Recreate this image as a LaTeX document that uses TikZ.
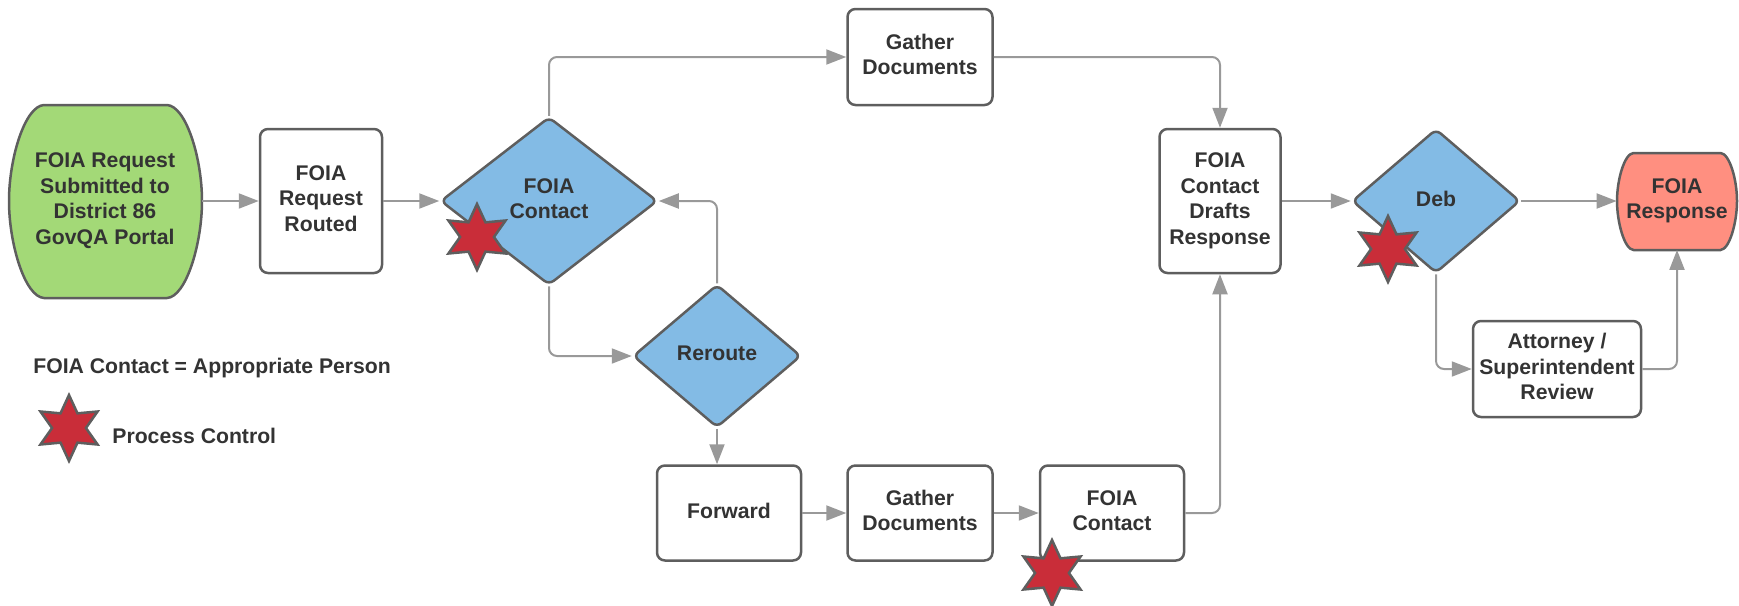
\documentclass[tikz,border=0pt]{standalone}
\usepackage{fontspec}
\setmainfont{Liberation Sans}
\usepackage{tikz}
\usetikzlibrary{positioning, arrows.meta, shapes.geometric}

\definecolor{startgreen}{HTML}{A3D977}
\definecolor{foiablue}{HTML}{83BBE5}
\definecolor{responsered}{HTML}{FF8F80}
\definecolor{controlred}{HTML}{C92D39}
\definecolor{edgegray}{HTML}{5E5E5E}
\definecolor{arrowgray}{HTML}{999999}
\definecolor{textdark}{HTML}{333333}

\tikzset{
  labelfont/.style={font=\bfseries\fontsize{10.6}{12.8}\selectfont, text=textdark},
  box/.style={rectangle, draw=edgegray, line width=1.25pt, rounded corners=4pt,
    fill=white, align=center, labelfont, inner sep=2pt, text depth=0.25em},
  decision/.style={diamond, draw=edgegray, line width=1.25pt, rounded corners=3pt,
    fill=foiablue, align=center, labelfont, inner sep=0pt, text depth=0.25em},
  terminal/.style={rectangle, align=center, labelfont, inner sep=0pt, text depth=0.25em},
  outline/.style={draw=edgegray, line width=1.25pt},
  control/.style={star, star points=6, star point ratio=1.95, minimum size=33pt,
    inner sep=0pt, draw=edgegray, line width=1.25pt, fill=controlred},
  conn/.style={draw=arrowgray, line width=1pt, rounded corners=4pt,
    -{Triangle[length=10pt,width=7.5pt]}},
}

\begin{document}
\begin{tikzpicture}[x=0.5pt,y=-0.5pt]
        \useasboundingbox (0,0) rectangle (1739,605);
        % Terminal outlines
        \path[outline, fill=startgreen] (44,105) -- (167,105)
          .. controls (186,106) and (202,158) .. (202,201)
          .. controls (202,244) and (186,297) .. (167,298) -- (44,298)
          .. controls (25,297) and (9,244) .. (9,201)
          .. controls (9,158) and (25,106) .. (44,105) -- cycle;
        \path[outline, fill=responsered] (1633.5,153) -- (1720.5,153)
          .. controls (1729.5,153.5) and (1737,179.5) .. (1737,201)
          .. controls (1737,222.5) and (1729.5,249.5) .. (1720.5,250) -- (1633.5,250)
          .. controls (1624.5,249.5) and (1617,222.5) .. (1617,201)
          .. controls (1617,179.5) and (1624.5,153.5) .. (1633.5,153) -- cycle;
        % Main flow
        \node[terminal, minimum width=96.5pt, minimum height=96.5pt] (request) at (105,201) {FOIA Request\\Submitted to\\District 86\\GovQA Portal};
        \node[box, minimum width=61pt, minimum height=72pt] (routed) at (321,201) {FOIA\\Request\\Routed};
        \node[decision, minimum width=108.5pt, minimum height=84pt] (contact) at (549,201) {FOIA\\Contact};
        \node[decision, minimum width=84pt, minimum height=71.5pt] (reroute) at (717,356) {Reroute};
        \node[box, minimum width=72.5pt, minimum height=48pt] (gathertop) at (920,57) {Gather\\Documents};
        \node[box, minimum width=72pt, minimum height=47.5pt] (forward) at (729,513) {Forward};
        \node[box, minimum width=72.5pt, minimum height=47.5pt] (gatherbot) at (920,513) {Gather\\Documents};
        \node[box, minimum width=72pt, minimum height=47.5pt] (contactbot) at (1112,513) {FOIA\\Contact};
        \node[box, minimum width=60.5pt, minimum height=72pt] (drafts) at (1220,201) {FOIA\\Contact\\Drafts\\Response};
        \node[decision, minimum width=84pt, minimum height=72pt] (deb) at (1436,201) {Deb};
        \node[terminal, minimum width=60pt, minimum height=48.5pt] (response) at (1677,201) {FOIA\\Response};
        \node[box, minimum width=84pt, minimum height=48pt] (review) at (1557,369) {Attorney /\\Superintendent\\Review};
        % Connectors
        \draw[conn] (request.east) -- (routed.west);
        \draw[conn] (routed.east) -- (contact.west);
        \draw[conn] (contact.north) |- (gathertop.west);
        \draw[conn] (gathertop.east) -| (drafts.north);
        \draw[conn] (contact.south) |- (reroute.west);
        \draw[conn] (reroute.north) |- (contact.east);
        \draw[conn] (reroute.south) -- (reroute.south |- forward.north);
        \draw[conn] (forward.east) -- (gatherbot.west);
        \draw[conn] (gatherbot.east) -- (contactbot.west);
        \draw[conn] (contactbot.east) -| (drafts.south);
        \draw[conn] (drafts.east) -- (deb.west);
        \draw[conn] (deb.east) -- (response.west);
        \draw[conn] (deb.south) |- (review.west);
        \draw[conn] (review.east) -| (response.south);
        % Process controls
        \node[control] (star1) at (477,237) {};
        \node[control] (star2) at (1388,249) {};
        \node[control] (star3) at (1052,573) {};
        % Legend
        \node[labelfont, anchor=west, inner sep=0pt] (note) at (33,368) {FOIA Contact = Appropriate Person};
        \node[control] (legendstar) at (69,428) {};
        \node[labelfont, anchor=west, inner sep=0pt] (legendlabel) at (112,436) {Process Control};
    \end{tikzpicture}
\end{document}
